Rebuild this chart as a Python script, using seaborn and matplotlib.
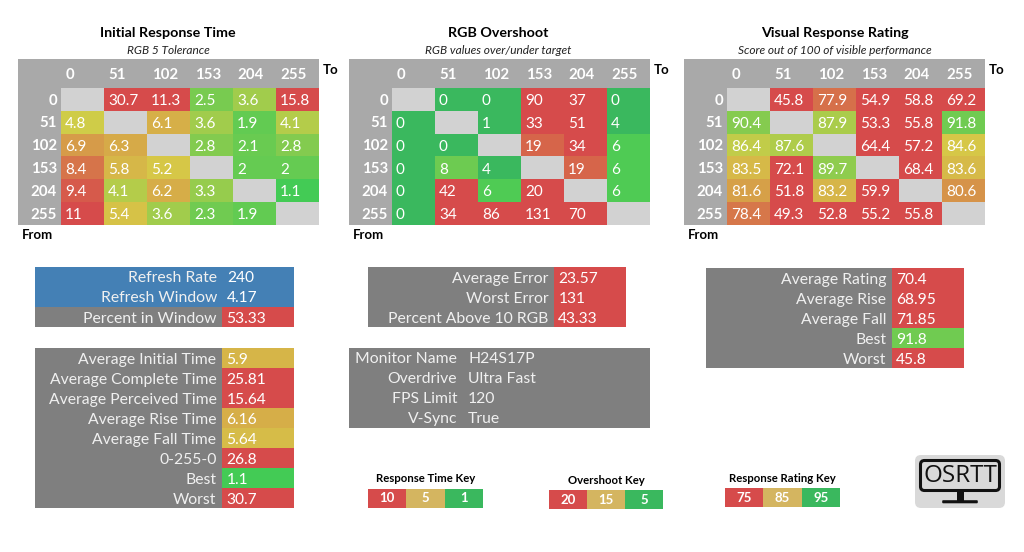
import matplotlib.pyplot as plt
import numpy as np
import seaborn as sns
from matplotlib.colors import LinearSegmentedColormap, ListedColormap
from matplotlib.patches import FancyBboxPatch, Rectangle

sns.set_theme(style="white")
plt.rcParams["font.family"] = ["Lato", "DejaVu Sans"]

W, H = 1024, 552
nan = np.nan

LEVELS = [0, 51, 102, 153, 204, 255]

RESPONSE_TIME = [
    [nan, 30.7, 11.3, 2.5, 3.6, 15.8],
    [4.8, nan, 6.1, 3.6, 1.9, 4.1],
    [6.9, 6.3, nan, 2.8, 2.1, 2.8],
    [8.4, 5.8, 5.2, nan, 2, 2],
    [9.4, 4.1, 6.2, 3.3, nan, 1.1],
    [11, 5.4, 3.6, 2.3, 1.9, nan],
]
OVERSHOOT = [
    [nan, 0, 0, 90, 37, 0],
    [0, nan, 1, 33, 51, 4],
    [0, 0, nan, 19, 34, 6],
    [0, 8, 4, nan, 19, 6],
    [0, 42, 6, 20, nan, 6],
    [0, 34, 86, 131, 70, nan],
]
RATING = [
    [nan, 45.8, 77.9, 54.9, 58.8, 69.2],
    [90.4, nan, 87.9, 53.3, 55.8, 91.8],
    [86.4, 87.6, nan, 64.4, 57.2, 84.6],
    [83.5, 72.1, 89.7, nan, 68.4, 83.6],
    [81.6, 51.8, 83.2, 59.9, nan, 80.6],
    [78.4, 49.3, 52.8, 55.2, 55.8, nan],
]

WINDOW_LABELS = ["Refresh Rate", "Refresh Window", "Percent in Window"]
WINDOW_VALUES = [240, 4.17, 53.33]
TIME_LABELS = ["Average Initial Time", "Average Complete Time", "Average Perceived Time",
               "Average Rise Time", "Average Fall Time", "0-255-0", "Best", "Worst"]
TIME_VALUES = [5.9, 25.81, 15.64, 6.16, 5.64, 26.8, 1.1, 30.7]
ERROR_LABELS = ["Average Error", "Worst Error", "Percent Above 10 RGB"]
ERROR_VALUES = [23.57, 131, 43.33]
RATING_LABELS = ["Average Rating", "Average Rise", "Average Fall", "Best", "Worst"]
RATING_VALUES = [70.4, 68.95, 71.85, 91.8, 45.8]
INFO_LABELS = ["Monitor Name", "Overdrive", "FPS Limit", "V-Sync"]
INFO_VALUES = ["H24S17P", "Ultra Fast", "120", "True"]

KEY_TIME = [10, 5, 1]
KEY_OVERSHOOT = [20, 15, 5]
KEY_RATING = [75, 85, 95]

RED = "#d64b4b"
YELLOW = "#d6cc47"
GREEN = "#40cb55"
DARK_GREEN = "#3ab85e"
TAN = "#d4b560"
GREY = "#7f7f7f"
HEAD_GREY = "#a9a9a9"
EMPTY = "#d2d2d2"
BLUE = "#4480b5"
LABEL = "#f0f0f0"

# excel style colour scales, pinned at the key values
time_cmap = LinearSegmentedColormap.from_list(
    "time", [(0, GREEN), (4 / 9, YELLOW), (1, RED)], N=512)
over_cmap = LinearSegmentedColormap.from_list(
    "over", [(0, DARK_GREEN), (0.25, DARK_GREEN), (0.2501, GREEN), (0.75, YELLOW), (1, RED)], N=1024)
rate_cmap = LinearSegmentedColormap.from_list(
    "rate", [(0, RED), (0.5, YELLOW), (1, GREEN)], N=512)
key_cmap = ListedColormap([RED, TAN, DARK_GREEN])

fig = plt.figure(figsize=(W / 100, H / 100), dpi=100, facecolor="white")

# whole figure in pixel coordinates for panels and loose text
bg = fig.add_axes([0, 0, 1, 1])
bg.set_xlim(0, W)
bg.set_ylim(H, 0)
bg.axis("off")


def px_axes(x0, y0, x1, y1):
    return fig.add_axes([x0 / W, 1 - y1 / H, (x1 - x0) / W, (y1 - y0) / H])


def nudge(ax, dx, dy):
    # heatmap centres its annotations, the reference has them left aligned
    for t in ax.texts:
        x, y = t.get_position()
        t.set_position((x + dx, y + dy))
        t.set_ha("left")


def matrix(data, cmap, vmin, vmax, left, title, subtitle, cx):
    cell_x = left + 43
    right = left + 301
    bg.add_patch(Rectangle((left, 59), 301, 166, color=HEAD_GREY, lw=0))
    bg.text(cx, 33, title, ha="center", va="center", fontsize=10.3, fontweight="bold", color="black")
    bg.text(cx, 50, subtitle, ha="center", va="center", fontsize=8.6, style="italic", color="#222222")
    bg.text(right + 4, 70, "To", ha="left", va="center", fontsize=9.5, fontweight="bold", color="black")
    bg.text(left + 4, 235, "From", ha="left", va="center", fontsize=9.5, fontweight="bold", color="black")

    ax = px_axes(cell_x, 88, right, 225)
    ax.set_facecolor(EMPTY)
    sns.heatmap(np.array(data), ax=ax, cmap=cmap, vmin=vmin, vmax=vmax, cbar=False,
                annot=True, fmt="g", annot_kws={"color": "white", "fontsize": 11},
                xticklabels=LEVELS, yticklabels=LEVELS)
    nudge(ax, -0.41, 0.07)
    ax.xaxis.tick_top()
    ax.set_xticks(np.arange(6) + 0.11)
    ax.set_xticklabels(LEVELS, rotation=0, ha="left", color="white", fontsize=10.8, fontweight="bold")
    ax.set_yticks(np.arange(6) + 0.55)
    ax.set_yticklabels(LEVELS, rotation=0, color="white", fontsize=10.8, fontweight="bold")
    ax.tick_params(axis="both", length=0)
    ax.tick_params(axis="x", pad=4)
    ax.tick_params(axis="y", pad=3)


def values_table(labels, values, cmap, vmin, vmax, x0, split, x1, y0, row_h=20):
    y1 = y0 + row_h * len(labels)
    bg.add_patch(Rectangle((x0, y0), split - x0, y1 - y0, color=GREY, lw=0))
    ax = px_axes(split, y0, x1, y1)
    sns.heatmap(np.array(values, dtype=float).reshape(-1, 1), ax=ax, cmap=cmap, vmin=vmin, vmax=vmax,
                cbar=False, annot=True, fmt="g", annot_kws={"color": "white", "fontsize": 11.2},
                xticklabels=False, yticklabels=labels)
    nudge(ax, -0.44, 0.08)
    ax.set_yticks(np.arange(len(labels)) + 0.58)
    ax.set_yticklabels(labels, rotation=0, color=LABEL, fontsize=11.3)
    ax.tick_params(axis="y", length=0, pad=4)


def key(values, title, x0, x1, y0):
    bg.text((x0 + x1) / 2, y0 - 10, title, ha="center", va="center", fontsize=8.2, fontweight="bold", color="black")
    ax = px_axes(x0, y0, x1, y0 + 19)
    sns.heatmap([[0, 1, 2]], ax=ax, cmap=key_cmap, vmin=-0.5, vmax=2.5, cbar=False,
                annot=[values], fmt="d", annot_kws={"color": "white", "fontsize": 9.5, "fontweight": "bold"},
                xticklabels=False, yticklabels=False)


matrix(RESPONSE_TIME, time_cmap, 1, 10, 18, "Initial Response Time", "RGB 5 Tolerance", 168)
matrix(OVERSHOOT, over_cmap, 0, 20, 349, "RGB Overshoot", "RGB values over/under target", 498)
matrix(RATING, rate_cmap, 75, 95, 684, "Visual Response Rating", "Score out of 100 of visible performance", 835)

# refresh window block: two blue rows, then a scored row
bg.add_patch(Rectangle((35, 267), 259, 40, color=BLUE, lw=0))
for i in range(2):
    bg.text(217, 278 + 20 * i, WINDOW_LABELS[i], ha="right", va="center", fontsize=11.3, color=LABEL)
    bg.text(227, 278 + 20 * i, f"{WINDOW_VALUES[i]:g}", ha="left", va="center", fontsize=11.2, color="white")
values_table(WINDOW_LABELS[2:], WINDOW_VALUES[2:], rate_cmap, 75, 95, 35, 222, 294, 307)

values_table(TIME_LABELS, TIME_VALUES, time_cmap, 1, 10, 35, 222, 294, 348)
values_table(ERROR_LABELS, ERROR_VALUES, over_cmap, 0, 20, 368, 554, 626, 267)
values_table(RATING_LABELS, RATING_VALUES, rate_cmap, 75, 95, 706, 892, 964, 268)

bg.add_patch(Rectangle((349, 348), 301, 80, color=GREY, lw=0))
for i, (lab, val) in enumerate(zip(INFO_LABELS, INFO_VALUES)):
    bg.text(457, 359 + 20 * i, lab, ha="right", va="center", fontsize=11.3, color=LABEL)
    bg.text(468, 359 + 20 * i, val, ha="left", va="center", fontsize=11.3, color=LABEL)

key(KEY_TIME, "Response Time Key", 368, 483, 489)
key(KEY_OVERSHOOT, "Overshoot Key", 549, 663, 490)
key(KEY_RATING, "Response Rating Key", 725, 840, 488)

# logo
bg.add_patch(FancyBboxPatch((918, 458), 84, 47, boxstyle="round,pad=3,rounding_size=6",
                            fc="#d9d9d9", ec="none"))
bg.add_patch(FancyBboxPatch((922, 462), 76, 27, boxstyle="round,pad=1.5,rounding_size=4",
                            fc="#d9d9d9", ec="#111111", lw=2.2))
bg.text(960, 475.5, "OSRTT", ha="center", va="center", fontsize=17.5, color="#111111",
        family=["Open Sans", "DejaVu Sans"])
bg.add_patch(Rectangle((956.5, 491), 7, 10, color="#111111", lw=0))
bg.add_patch(FancyBboxPatch((943, 501), 34, 1.5, boxstyle="round,pad=0.8,rounding_size=1",
                            fc="#111111", ec="none"))

fig.savefig("out.png", dpi=100)
